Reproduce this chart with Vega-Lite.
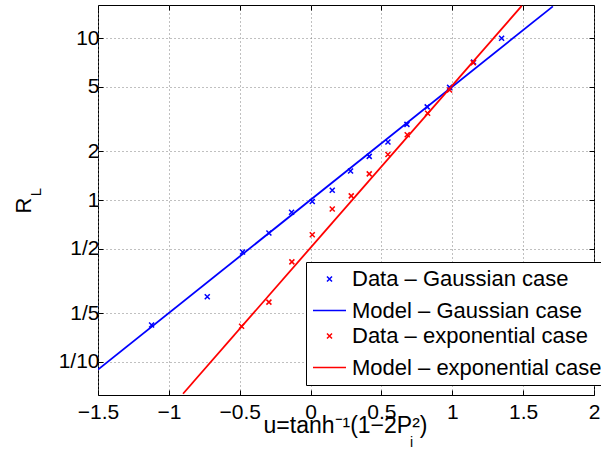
{
  "$schema": "https://vega.github.io/schema/vega-lite/v6.json",
  "width": 496,
  "height": 390,
  "autosize": {"type": "none"},
  "padding": {"left": 98, "top": 5, "right": 7, "bottom": 56},
  "background": "white",
  "config": {
    "view": {"stroke": "black", "strokeWidth": 1},
    "font": "Liberation Sans",
    "axis": {
      "domain": false,
      "tickColor": "black",
      "tickSize": -5,
      "tickWidth": 1,
      "labelColor": "black",
      "labelFontSize": 21,
      "labelFont": "Liberation Sans",
      "titleColor": "black",
      "titleFont": "Liberation Sans",
      "titleFontWeight": "normal",
      "gridColor": "#808080",
      "gridDash": [1, 3],
      "gridWidth": 1,
      "gridOpacity": 1,
      "labelFlush": false,
      "labelOverlap": false
    },
    "legend": {
      "orient": "none",
      "legendX": 208,
      "legendY": 257,
      "padding": 6,
      "strokeColor": "black",
      "fillColor": "white",
      "labelFontSize": 22,
      "labelFont": "Liberation Sans",
      "labelColor": "black",
      "labelLimit": 0,
      "labelOffset": 5,
      "symbolStrokeWidth": 1.5,
      "rowPadding": 3,
      "cornerRadius": 0
    }
  },
  "datasets": {
    "pts": [
      {"u": -1.122, "R": 0.169, "series": "Data – Gaussian case"},
      {"u": -0.729, "R": 0.253, "series": "Data – Gaussian case"},
      {"u": -0.48, "R": 0.478, "series": "Data – Gaussian case"},
      {"u": -0.294, "R": 0.625, "series": "Data – Gaussian case"},
      {"u": -0.134, "R": 0.84, "series": "Data – Gaussian case"},
      {"u": 0.012, "R": 0.98, "series": "Data – Gaussian case"},
      {"u": 0.153, "R": 1.15, "series": "Data – Gaussian case"},
      {"u": 0.282, "R": 1.51, "series": "Data – Gaussian case"},
      {"u": 0.414, "R": 1.86, "series": "Data – Gaussian case"},
      {"u": 0.546, "R": 2.28, "series": "Data – Gaussian case"},
      {"u": 0.68, "R": 2.93, "series": "Data – Gaussian case"},
      {"u": 0.823, "R": 3.76, "series": "Data – Gaussian case"},
      {"u": 0.981, "R": 4.96, "series": "Data – Gaussian case"},
      {"u": 1.15, "R": 7.1, "series": "Data – Gaussian case"},
      {"u": 1.348, "R": 9.96, "series": "Data – Gaussian case"},
      {"u": -0.487, "R": 0.166, "series": "Data – exponential case"},
      {"u": -0.294, "R": 0.234, "series": "Data – exponential case"},
      {"u": -0.132, "R": 0.415, "series": "Data – exponential case"},
      {"u": 0.012, "R": 0.61, "series": "Data – exponential case"},
      {"u": 0.153, "R": 0.88, "series": "Data – exponential case"},
      {"u": 0.287, "R": 1.06, "series": "Data – exponential case"},
      {"u": 0.414, "R": 1.45, "series": "Data – exponential case"},
      {"u": 0.546, "R": 1.91, "series": "Data – exponential case"},
      {"u": 0.682, "R": 2.53, "series": "Data – exponential case"},
      {"u": 0.826, "R": 3.43, "series": "Data – exponential case"},
      {"u": 0.981, "R": 4.78, "series": "Data – exponential case"},
      {"u": 1.148, "R": 7.03, "series": "Data – exponential case"}
    ],
    "lines": [
      {"u": -1.5, "R": 0.0897, "series": "Model – Gaussian case"},
      {"u": 1.71, "R": 15.7, "series": "Model – Gaussian case"},
      {"u": -0.9, "R": 0.0636, "series": "Model – exponential case"},
      {"u": 1.49, "R": 15.8, "series": "Model – exponential case"}
    ]
  },
  "layer": [
    {
      "data": {"name": "pts"},
      "mark": {"type": "point", "filled": false, "strokeWidth": 1.5, "opacity": 1},
      "encoding": {
        "x": {
          "field": "u", "type": "quantitative",
          "scale": {"domain": [-1.5, 2], "nice": false, "zero": false},
          "axis": {
            "orient": "bottom",
            "values": [-1.5, -1, -0.5, 0, 0.5, 1, 1.5, 2],
            "format": "~g",
            "labelPadding": 11,
            "grid": true,
            "title": "u=tanh⁻¹(1−2P²)",
            "titleFontSize": 23,
            "titleAnchor": null,
            "titleAlign": "center",
            "titleBaseline": "alphabetic",
            "titleX": 247,
            "titleY": 37
          }
        },
        "y": {
          "field": "R", "type": "quantitative",
          "scale": {"type": "log", "domain": [0.0625, 16], "nice": false},
          "axis": {
            "orient": "left",
            "values": [0.1, 0.2, 0.5, 1, 2, 5, 10],
            "labelExpr": "datum.value < 1 ? '1/' + round(1/datum.value) : '' + round(datum.value)",
            "labelPadding": 4,
            "grid": true,
            "title": "R",
            "titleFontSize": 22,
            "titleAngle": -90,
            "titleAnchor": null,
            "titleAlign": "center",
            "titleBaseline": "middle",
            "titleX": -75,
            "titleY": 200
          }
        },
        "color": {
          "field": "series", "type": "nominal",
          "scale": {
            "domain": ["Data – Gaussian case", "Model – Gaussian case", "Data – exponential case", "Model – exponential case"],
            "range": ["#0000ff", "#0000ff", "#ff0000", "#ff0000"]
          },
          "legend": {"title": null}
        },
        "shape": {
          "field": "series", "type": "nominal",
          "scale": {
            "domain": ["Data – Gaussian case", "Model – Gaussian case", "Data – exponential case", "Model – exponential case"],
            "range": ["M-1,-1L1,1M1,-1L-1,1", "stroke", "M-1,-1L1,1M1,-1L-1,1", "stroke"]
          },
          "legend": {"title": null}
        },
        "size": {
          "field": "series", "type": "nominal",
          "scale": {
            "type": "ordinal",
            "domain": ["Data – Gaussian case", "Model – Gaussian case", "Data – exponential case", "Model – exponential case"],
            "range": [25, 1089, 25, 1089]
          },
          "legend": {"title": null}
        }
      }
    },
    {
      "data": {"name": "lines"},
      "mark": {"type": "line", "strokeWidth": 1.8, "clip": true},
      "encoding": {
        "x": {
          "field": "u", "type": "quantitative",
          "axis": {
            "orient": "top",
            "values": [-1.5, -1, -0.5, 0, 0.5, 1, 1.5, 2],
            "labels": false,
            "grid": false,
            "title": "i",
            "titleFontSize": 14,
            "titleAnchor": null,
            "titleAlign": "center",
            "titleBaseline": "alphabetic",
            "titleX": 313,
            "titleY": 441
          }
        },
        "y": {
          "field": "R", "type": "quantitative",
          "axis": {
            "orient": "right",
            "values": [0.1, 0.2, 0.5, 1, 2, 5, 10],
            "labels": false,
            "grid": false,
            "title": "L",
            "titleFontSize": 15,
            "titleAngle": -90,
            "titleAnchor": null,
            "titleAlign": "center",
            "titleBaseline": "middle",
            "titleX": -558.5,
            "titleY": 186.5
          }
        },
        "color": {"field": "series", "type": "nominal", "legend": {"title": null}}
      }
    }
  ],
  "resolve": {"axis": {"x": "independent", "y": "independent"}}
}
